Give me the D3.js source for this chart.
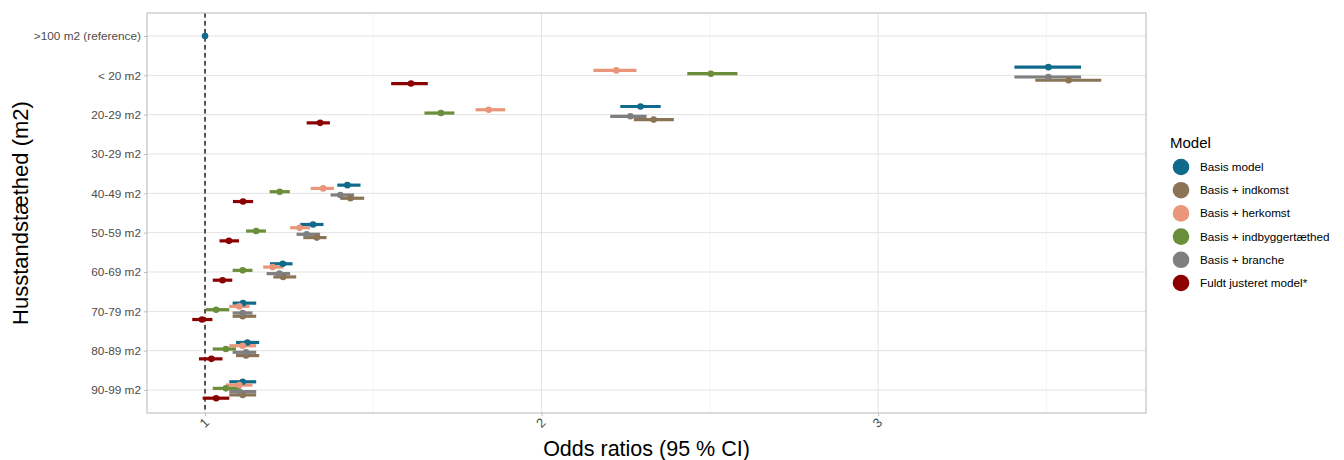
<!DOCTYPE html>
<html>
<head>
<meta charset="utf-8">
<script src="https://cdn.jsdelivr.net/npm/d3@7/dist/d3.min.js"></script>
<style>
html,body{margin:0;padding:0;background:#fff;}
svg{display:block;font-family:"Liberation Sans",Arial,sans-serif;}
</style>
</head>
<body>
<svg id="chart" width="1344" height="460"></svg>
<script>
// ---- Data ----
const categories = [">100 m2 (reference)", "< 20 m2", "20-29 m2", "30-29 m2", "40-49 m2",
  "50-59 m2", "60-69 m2", "70-79 m2", "80-89 m2", "90-99 m2"];

const models = ["Basis model", "Basis + indkomst", "Basis + herkomst",
  "Basis + indbyggertæthed", "Basis + branche", "Fuldt justeret model*"];

const colors = ["#0f6a8b", "#8b7355", "#e9967a", "#6b8e3a", "#7f7f7f", "#8b0000"];

// vertical dodge order (top to bottom)
const dodgeOrder = ["Basis model", "Basis + herkomst", "Basis + indbyggertæthed",
  "Basis + branche", "Basis + indkomst", "Fuldt justeret model*"];

// odds ratio, lower CI, upper CI per category (null = not estimated)
const basisOR  = [1, 3.506, 2.294, null, 1.423, 1.321, 1.231, 1.113, 1.126, 1.112];
const basisLo  = [1, 3.405, 2.234, null, 1.393, 1.283, 1.193, 1.082, 1.092, 1.072];
const basisHi  = [1, 3.603, 2.354, null, 1.462, 1.352, 1.260, 1.152, 1.161, 1.152];

const indkomstOR = [null, 3.566, 2.333, null, 1.432, 1.332, 1.232, 1.112, 1.122, 1.112];
const indkomstLo = [null, 3.467, 2.274, null, 1.402, 1.292, 1.203, 1.082, 1.092, 1.072];
const indkomstHi = [null, 3.663, 2.393, null, 1.473, 1.361, 1.271, 1.152, 1.161, 1.152];

const herkomstOR = [null, 2.222, 1.843, null, 1.351, 1.281, 1.201, 1.102, 1.112, 1.102];
const herkomstLo = [null, 2.154, 1.804, null, 1.314, 1.253, 1.173, 1.072, 1.072, 1.062];
const herkomstHi = [null, 2.282, 1.892, null, 1.383, 1.312, 1.233, 1.132, 1.152, 1.141];

const indbygOR = [null, 2.503, 1.701, null, 1.222, 1.152, 1.112, 1.033, 1.062, 1.062];
const indbygLo = [null, 2.433, 1.652, null, 1.192, 1.122, 1.082, 1.003, 1.023, 1.023];
const indbygHi = [null, 2.582, 1.741, null, 1.252, 1.181, 1.141, 1.072, 1.092, 1.102];

const brancheOR = [null, 3.506, 2.264, null, 1.402, 1.302, 1.221, 1.112, 1.122, 1.102];
const brancheLo = [null, 3.405, 2.204, null, 1.373, 1.272, 1.183, 1.082, 1.082, 1.072];
const brancheHi = [null, 3.603, 2.312, null, 1.443, 1.342, 1.253, 1.141, 1.152, 1.152];

const fuldtOR = [null, 1.612, 1.342, null, 1.113, 1.071, 1.052, 0.991, 1.019, 1.033];
const fuldtLo = [null, 1.553, 1.302, null, 1.083, 1.043, 1.023, 0.962, 0.982, 0.993];
const fuldtHi = [null, 1.662, 1.371, null, 1.143, 1.101, 1.081, 1.022, 1.052, 1.072];

const xTicks = [1, 2, 3];
const xMinor = [1.5, 2.5, 3.5];

const seriesVals = [
  [basisOR, basisLo, basisHi],
  [indkomstOR, indkomstLo, indkomstHi],
  [herkomstOR, herkomstLo, herkomstHi],
  [indbygOR, indbygLo, indbygHi],
  [brancheOR, brancheLo, brancheHi],
  [fuldtOR, fuldtLo, fuldtHi]
];

const rows = [];
models.forEach((m, i) => {
  categories.forEach((c, j) => {
    const [o, l, h] = seriesVals[i];
    if (o[j] != null) rows.push({model: m, cat: c, or: o[j], lo: l[j], hi: h[j], color: colors[i]});
  });
});

// ---- Layout ----
const svg = d3.select("#chart");
const P = {left: 147, right: 1146, top: 13, bottom: 413};

const x = d3.scaleLinear().domain([0.8276, 3.796]).range([P.left, P.right]);
const y = d3.scalePoint().domain(categories).range([P.top, P.bottom]).padding(0.585);
const step = y.step();
const dodgeW = 0.5 * step;

// panel background
svg.append("rect").attr("x", P.left).attr("y", P.top)
  .attr("width", P.right - P.left).attr("height", P.bottom - P.top).attr("fill", "#fff");

// grid
const grid = svg.append("g");
grid.selectAll(".minor").data(xMinor).join("line")
  .attr("x1", d => x(d)).attr("x2", d => x(d)).attr("y1", P.top).attr("y2", P.bottom)
  .attr("stroke", "#eeeeee").attr("stroke-width", 0.6);
grid.selectAll(".majx").data(xTicks).join("line")
  .attr("x1", d => x(d)).attr("x2", d => x(d)).attr("y1", P.top).attr("y2", P.bottom)
  .attr("stroke", "#e3e3e3").attr("stroke-width", 1);
grid.selectAll(".majy").data(categories).join("line")
  .attr("x1", P.left).attr("x2", P.right).attr("y1", d => y(d)).attr("y2", d => y(d))
  .attr("stroke", "#e3e3e3").attr("stroke-width", 1);

// reference dashed line
svg.append("line").attr("x1", x(1)).attr("x2", x(1)).attr("y1", P.top).attr("y2", P.bottom)
  .attr("stroke", "#000").attr("stroke-width", 1.3).attr("stroke-dasharray", "4.5,3.5");

// dodge positions
function yPos(d) {
  const present = dodgeOrder.filter(m => rows.some(r => r.cat === d.cat && r.model === m));
  const n = present.length;
  if (n <= 1) return y(d.cat);
  const k = present.indexOf(d.model);
  const w = dodgeW / n;
  return y(d.cat) + (k - (n - 1) / 2) * w;
}

const marks = svg.append("g");
marks.selectAll(".ci").data(rows).join("line")
  .attr("x1", d => x(d.lo)).attr("x2", d => x(d.hi))
  .attr("y1", d => yPos(d)).attr("y2", d => yPos(d))
  .attr("stroke", d => d.color).attr("stroke-width", 3.2);
marks.selectAll(".pt").data(rows).join("circle")
  .attr("cx", d => x(d.or)).attr("cy", d => yPos(d)).attr("r", 3.3)
  .attr("fill", d => d.color);

// panel border
svg.append("rect").attr("x", P.left).attr("y", P.top)
  .attr("width", P.right - P.left).attr("height", P.bottom - P.top)
  .attr("fill", "none").attr("stroke", "#c4c4c4").attr("stroke-width", 1.2);

// y axis
const yAxis = svg.append("g").attr("transform", `translate(${P.left},0)`)
  .call(d3.axisLeft(y).tickSize(3).tickPadding(3));
yAxis.select(".domain").remove();
yAxis.selectAll(".tick line").attr("stroke", "#bdbdbd");
yAxis.selectAll(".tick text").attr("fill", "#4d4d4d").style("font-size", "11.8px")
  .style("font-family", "'Liberation Sans', Arial, sans-serif");

// x axis
const xAxis = svg.append("g").attr("transform", `translate(0,${P.bottom})`)
  .call(d3.axisBottom(x).tickValues(xTicks).tickFormat(d3.format("d")).tickSize(3).tickPadding(4));
xAxis.select(".domain").remove();
xAxis.selectAll(".tick line").attr("stroke", "#bdbdbd");
xAxis.selectAll(".tick text").attr("fill", "#4d4d4d").style("font-size", "13px")
  .style("font-family", "'Liberation Sans', Arial, sans-serif")
  .attr("text-anchor", "middle").attr("dy", null).attr("y", 0)
  .attr("transform", "translate(2,13) rotate(-45)");

// axis titles
svg.append("text").attr("x", (P.left + P.right) / 2).attr("y", 456)
  .attr("text-anchor", "middle").style("font-size", "21.5px").attr("fill", "#000")
  .text("Odds ratios (95 % CI)");
svg.append("text").attr("transform", `translate(28,${(P.top + P.bottom) / 2}) rotate(-90)`)
  .attr("text-anchor", "middle").style("font-size", "22px").attr("fill", "#000")
  .text("Husstandstæthed (m2)");

// legend
const lg = svg.append("g").attr("transform", "translate(1170,0)");
lg.append("text").attr("x", 0).attr("y", 148).style("font-size", "15px").attr("fill", "#000").text("Model");
const items = lg.selectAll(".li").data(models).join("g")
  .attr("transform", (d, i) => `translate(0,${167 + i * 23.2})`);
items.append("circle").attr("cx", 11).attr("cy", 0).attr("r", 8.3).attr("fill", (d, i) => colors[i]);
items.append("text").attr("x", 30).attr("y", 4).style("font-size", "11.7px").attr("fill", "#000").text(d => d);
</script>
</body>
</html>
